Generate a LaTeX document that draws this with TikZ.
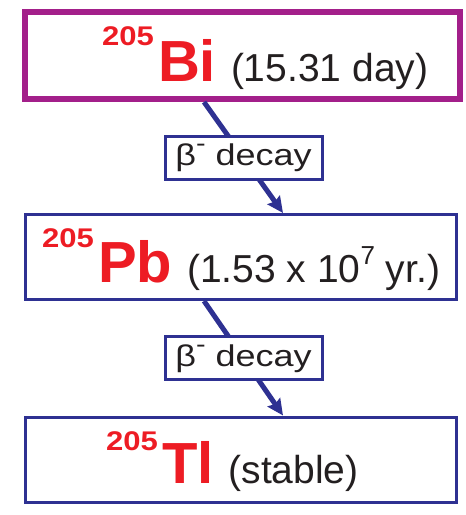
\documentclass[tikz,border=0pt]{standalone}
\usepackage{fontspec}
\setmainfont{Liberation Sans}
\usepackage{graphicx}
\usetikzlibrary{arrows.meta,positioning,calc}

\definecolor{decayblue}{RGB}{46,49,146}
\definecolor{parentpurple}{RGB}{163,31,138}
\definecolor{isored}{RGB}{237,28,36}
\definecolor{inkblack}{RGB}{35,31,32}

% mass number, raised by #2 pt
\newcommand{\massno}[2]{\raisebox{#2pt}{\scalebox{1.15}[1]{\fontsize{27}{27}\selectfont\bfseries\color{isored}#1}}\hspace{4pt}}
\newcommand{\elem}[1]{{\fontsize{58}{58}\selectfont\bfseries\color{isored}#1}\hspace{15pt}}
\newcommand{\life}[1]{{\fontsize{39}{39}\selectfont #1}}

\tikzset{
  parent box/.style={draw=parentpurple, line width=6pt, minimum width=435pt, minimum height=87pt, inner sep=0pt},
  daughter box/.style={draw=decayblue, line width=3pt, minimum width=431pt, minimum height=85pt, inner sep=0pt},
  decay box/.style={draw=decayblue, line width=3pt, fill=white, text=inkblack, minimum width=157pt, minimum height=43pt,
    inner sep=0pt, font=\fontsize{30}{30}\selectfont},
  decay arrow/.style={decayblue, line width=5pt, -{Stealth[length=16pt,width=15pt,inset=2pt]}},
  nuc label/.style={anchor=base west, inner sep=0pt, text=inkblack}
}

\begin{document}
\begin{tikzpicture}[x=1pt, y=-1pt]
  \useasboundingbox (0,0) rectangle (466,515);

  % the three nuclides
  \node[parent box] (bi) at (242.5,55.5) {};
  \node[daughter box] (pb) at (241,257) {};
  \node[daughter box] (tl) at (241,459.5) {};

  \node[nuc label] (bilabel) at (102,81) {\massno{205}{36}\elem{Bi}\life{(15.31 day)}};
  \node[nuc label] (pblabel) at (42,282) {\massno{205}{35}\elem{Pb}\life{(1.53 x 10\raisebox{18pt}{\fontsize{26}{26}\selectfont 7} yr.)}};
  \node[nuc label] (tllabel) at (106,483) {\massno{205}{33}\elem{Tl}\life{(stable)}};

  % decays
  \draw[decay arrow] ($(bi.south west)+(182,0)$) -- node[decay box] (betaone) {\scalebox{1.2}[1]{β\raisebox{14pt}{\fontsize{24}{24}\selectfont -} decay}} ($(pb.north west)+(259,0)$);
  \draw[decay arrow] ($(pb.south west)+(180,0)$) -- node[decay box] (betatwo) {\scalebox{1.2}[1]{β\raisebox{14pt}{\fontsize{24}{24}\selectfont -} decay}} ($(tl.north west)+(259,0)$);
\end{tikzpicture}
\end{document}
